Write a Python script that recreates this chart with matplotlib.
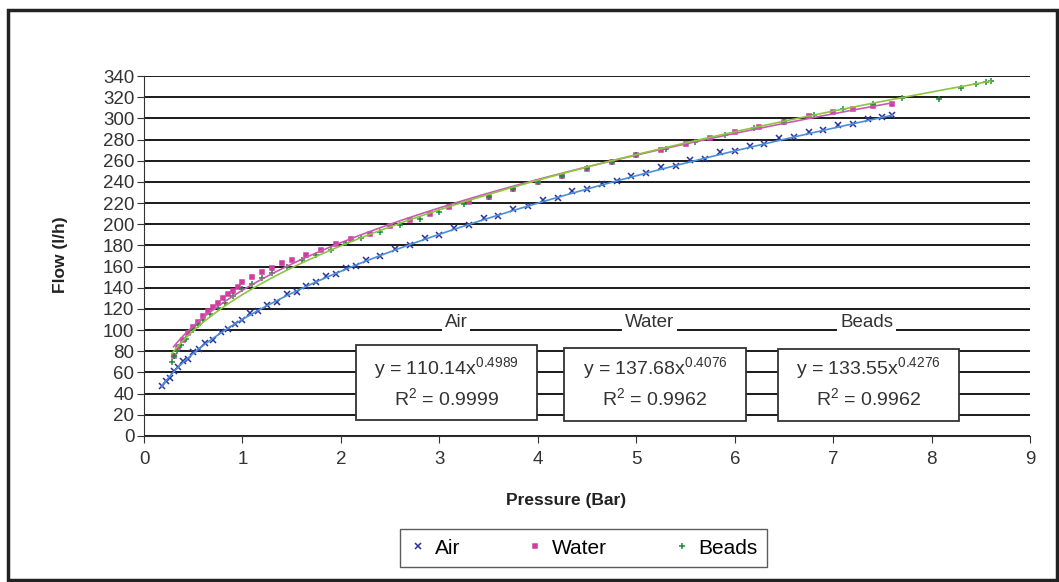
import matplotlib
matplotlib.use("Agg")
import matplotlib.pyplot as plt
from matplotlib.patches import Rectangle
import numpy as np

plt.rcParams['font.family'] = ['Liberation Sans', 'DejaVu Sans']
plt.rcParams['mathtext.default'] = 'regular'

# Air (blue x markers)
air_p = [0.18, 0.22, 0.26, 0.3, 0.35, 0.4, 0.45, 0.5, 0.56, 0.62, 0.7, 0.78, 0.85,
         0.92, 1.0, 1.08, 1.16, 1.25, 1.35, 1.45, 1.55, 1.65, 1.75, 1.85, 1.95,
         2.05, 2.15, 2.25, 2.4, 2.55, 2.7, 2.85, 3.0, 3.15, 3.3, 3.45, 3.6, 3.75,
         3.9, 4.05, 4.2, 4.35, 4.5, 4.65, 4.8, 4.95, 5.1, 5.25, 5.4, 5.55, 5.7,
         5.85, 6.0, 6.15, 6.3, 6.45, 6.6, 6.75, 6.9, 7.05, 7.2, 7.35, 7.5, 7.6]
air_q = [47, 52, 55, 61, 65, 71, 73, 79, 82, 88, 91, 98, 101,
         106, 110, 116, 118, 124, 127, 134, 136, 142, 145, 151, 153,
         159, 161, 166, 170, 177, 180, 187, 190, 196, 199, 206, 208, 214,
         217, 223, 225, 231, 233, 238, 241, 246, 248, 254, 255, 261, 262,
         268, 269, 274, 276, 281, 282, 287, 289, 294, 295, 299, 301, 303]

# Water (magenta squares)
water_p = [0.3, 0.35, 0.4, 0.45, 0.5, 0.55, 0.6, 0.65, 0.7, 0.75, 0.8, 0.85, 0.9,
           0.95, 1.0, 1.1, 1.2, 1.3, 1.4, 1.5, 1.65, 1.8, 1.95, 2.1, 2.3, 2.5,
           2.7, 2.9, 3.1, 3.3, 3.5, 3.75, 4.0, 4.25, 4.5, 4.75, 5.0, 5.25, 5.5,
           5.75, 6.0, 6.25, 6.5, 6.75, 7.0, 7.2, 7.4, 7.6]
water_q = [76, 84, 91, 97, 103, 108, 113, 118, 122, 126, 130, 134, 137,
           141, 145, 150, 155, 159, 163, 166, 171, 176, 181, 186, 191, 198,
           204, 210, 216, 221, 226, 233, 240, 246, 252, 259, 265, 270, 276,
           281, 287, 292, 297, 302, 306, 309, 312, 314]

# Beads (green plus markers)
beads_p = [0.28, 0.3, 0.33, 0.38, 0.43, 0.5, 0.55, 0.6, 0.67, 0.75, 0.82, 0.9, 1.0,
           1.1, 1.2, 1.3, 1.45, 1.6, 1.75, 1.9, 2.05, 2.2, 2.4, 2.6, 2.8, 3.0,
           3.25, 3.5, 3.75, 4.0, 4.25, 4.5, 4.75, 5.0, 5.3, 5.6, 5.9, 6.2, 6.5,
           6.8, 7.1, 7.4, 7.7, 8.07, 8.3, 8.45, 8.55, 8.6]
beads_q = [70, 76, 80, 86, 92, 100, 105, 110, 115, 121, 126, 132, 139,
           144, 149, 154, 160, 166, 171, 176, 182, 187, 193, 199, 205, 212,
           219, 226, 233, 240, 246, 253, 259, 265, 271, 278, 284, 291, 297,
           303, 309, 314, 319, 318, 329, 332, 334, 335]

# fitted power trendlines shown on chart: y = a * x^b
fit_a = [110.14, 137.68, 133.55]
fit_b = [0.4989, 0.4076, 0.4276]
fit_r2 = ['0.9999', '0.9962', '0.9962']
names = ['Air', 'Water', 'Beads']

x_ticks = list(range(0, 10))
y_ticks = list(range(0, 341, 20))

fig = plt.figure(figsize=(10.59, 5.82), dpi=100)
fig.patches.append(Rectangle((0.008, 0.004), 0.99, 0.978, transform=fig.transFigure,
                             fill=False, edgecolor='#222222', linewidth=2.5))
ax = fig.add_axes([0.136, 0.2509, 0.8368, 0.6185])

ax.set_xlim(0, 9)
ax.set_ylim(0, 340)
ax.set_yticks(y_ticks)
ax.set_xticks(x_ticks)
ax.grid(axis='y', color='#1a1a1a', linewidth=1.4, zorder=0)
for s in ['top', 'right']:
    ax.spines[s].set_visible(False)
ax.spines['left'].set_color('#333333')
ax.spines['bottom'].set_color('#333333')
ax.tick_params(axis='y', length=5, labelsize=13.5, pad=2, colors='#333333')
ax.tick_params(axis='x', length=5, labelsize=13.5, pad=6, colors='#333333')

series = [(air_p, air_q, 'x', '#2a2f9e', '#4a8fd8', 4),
          (water_p, water_q, 's', '#d03ca0', '#c85ab0', 2.5),
          (beads_p, beads_q, '+', '#1e8a3a', '#8cc63f', 5)]

for i, (p, q, m, c, tc, ms) in enumerate(series):
    ax.plot(p, q, linestyle='none', marker=m, color=c, markersize=ms,
            markeredgewidth=1.1, label=names[i], zorder=3)
    xs = np.linspace(min(p), max(p), 200)
    ax.plot(xs, fit_a[i] * xs ** fit_b[i], color=tc, linewidth=1.2, zorder=4)

# series name labels and equation boxes (data coords)
label_x = [3.17, 5.13, 7.34]
box_x0 = [2.154, 4.27, 6.44]
box_y0 = [15.1, 14.2, 14.2]
box_h = [70.8, 68.9, 68.0]
for i in range(3):
    ax.text(label_x[i], 107, names[i], ha='center', va='center', fontsize=13.5,
            color='#333333', zorder=5,
            bbox=dict(facecolor='white', edgecolor='none', pad=2))
    ax.add_patch(Rectangle((box_x0[i], box_y0[i]), 1.84, box_h[i],
                           facecolor='white', edgecolor='#333333', linewidth=1.3,
                           zorder=5))
    cx = box_x0[i] + 0.92
    ax.text(cx, 64, 'y = %.2fx$^{%.4f}$' % (fit_a[i], fit_b[i]), ha='center',
            va='center', fontsize=14, color='#333333', zorder=6)
    ax.text(cx, 36, 'R$^{2}$ = %s' % fit_r2[i], ha='center', va='center',
            fontsize=14, color='#333333', zorder=6)

fig.text(566 / 1059, 1 - 501 / 582, 'Pressure (Bar)', ha='center', va='center',
         fontsize=12.5, fontweight='bold', color='#222222')
fig.text(60 / 1059, 1 - 255 / 582, 'Flow (l/h)', ha='center', va='center',
         rotation=90, fontsize=12.5, fontweight='bold', color='#222222')

fig.legend(loc='center', bbox_to_anchor=(0.551, 0.058), ncol=3, fontsize=15,
           frameon=True, fancybox=False, edgecolor='#333333', handlelength=0.8,
           handletextpad=0.4, columnspacing=3.2, markerscale=1.0,
           borderpad=0.45)

fig.savefig('out.png', dpi=100)
